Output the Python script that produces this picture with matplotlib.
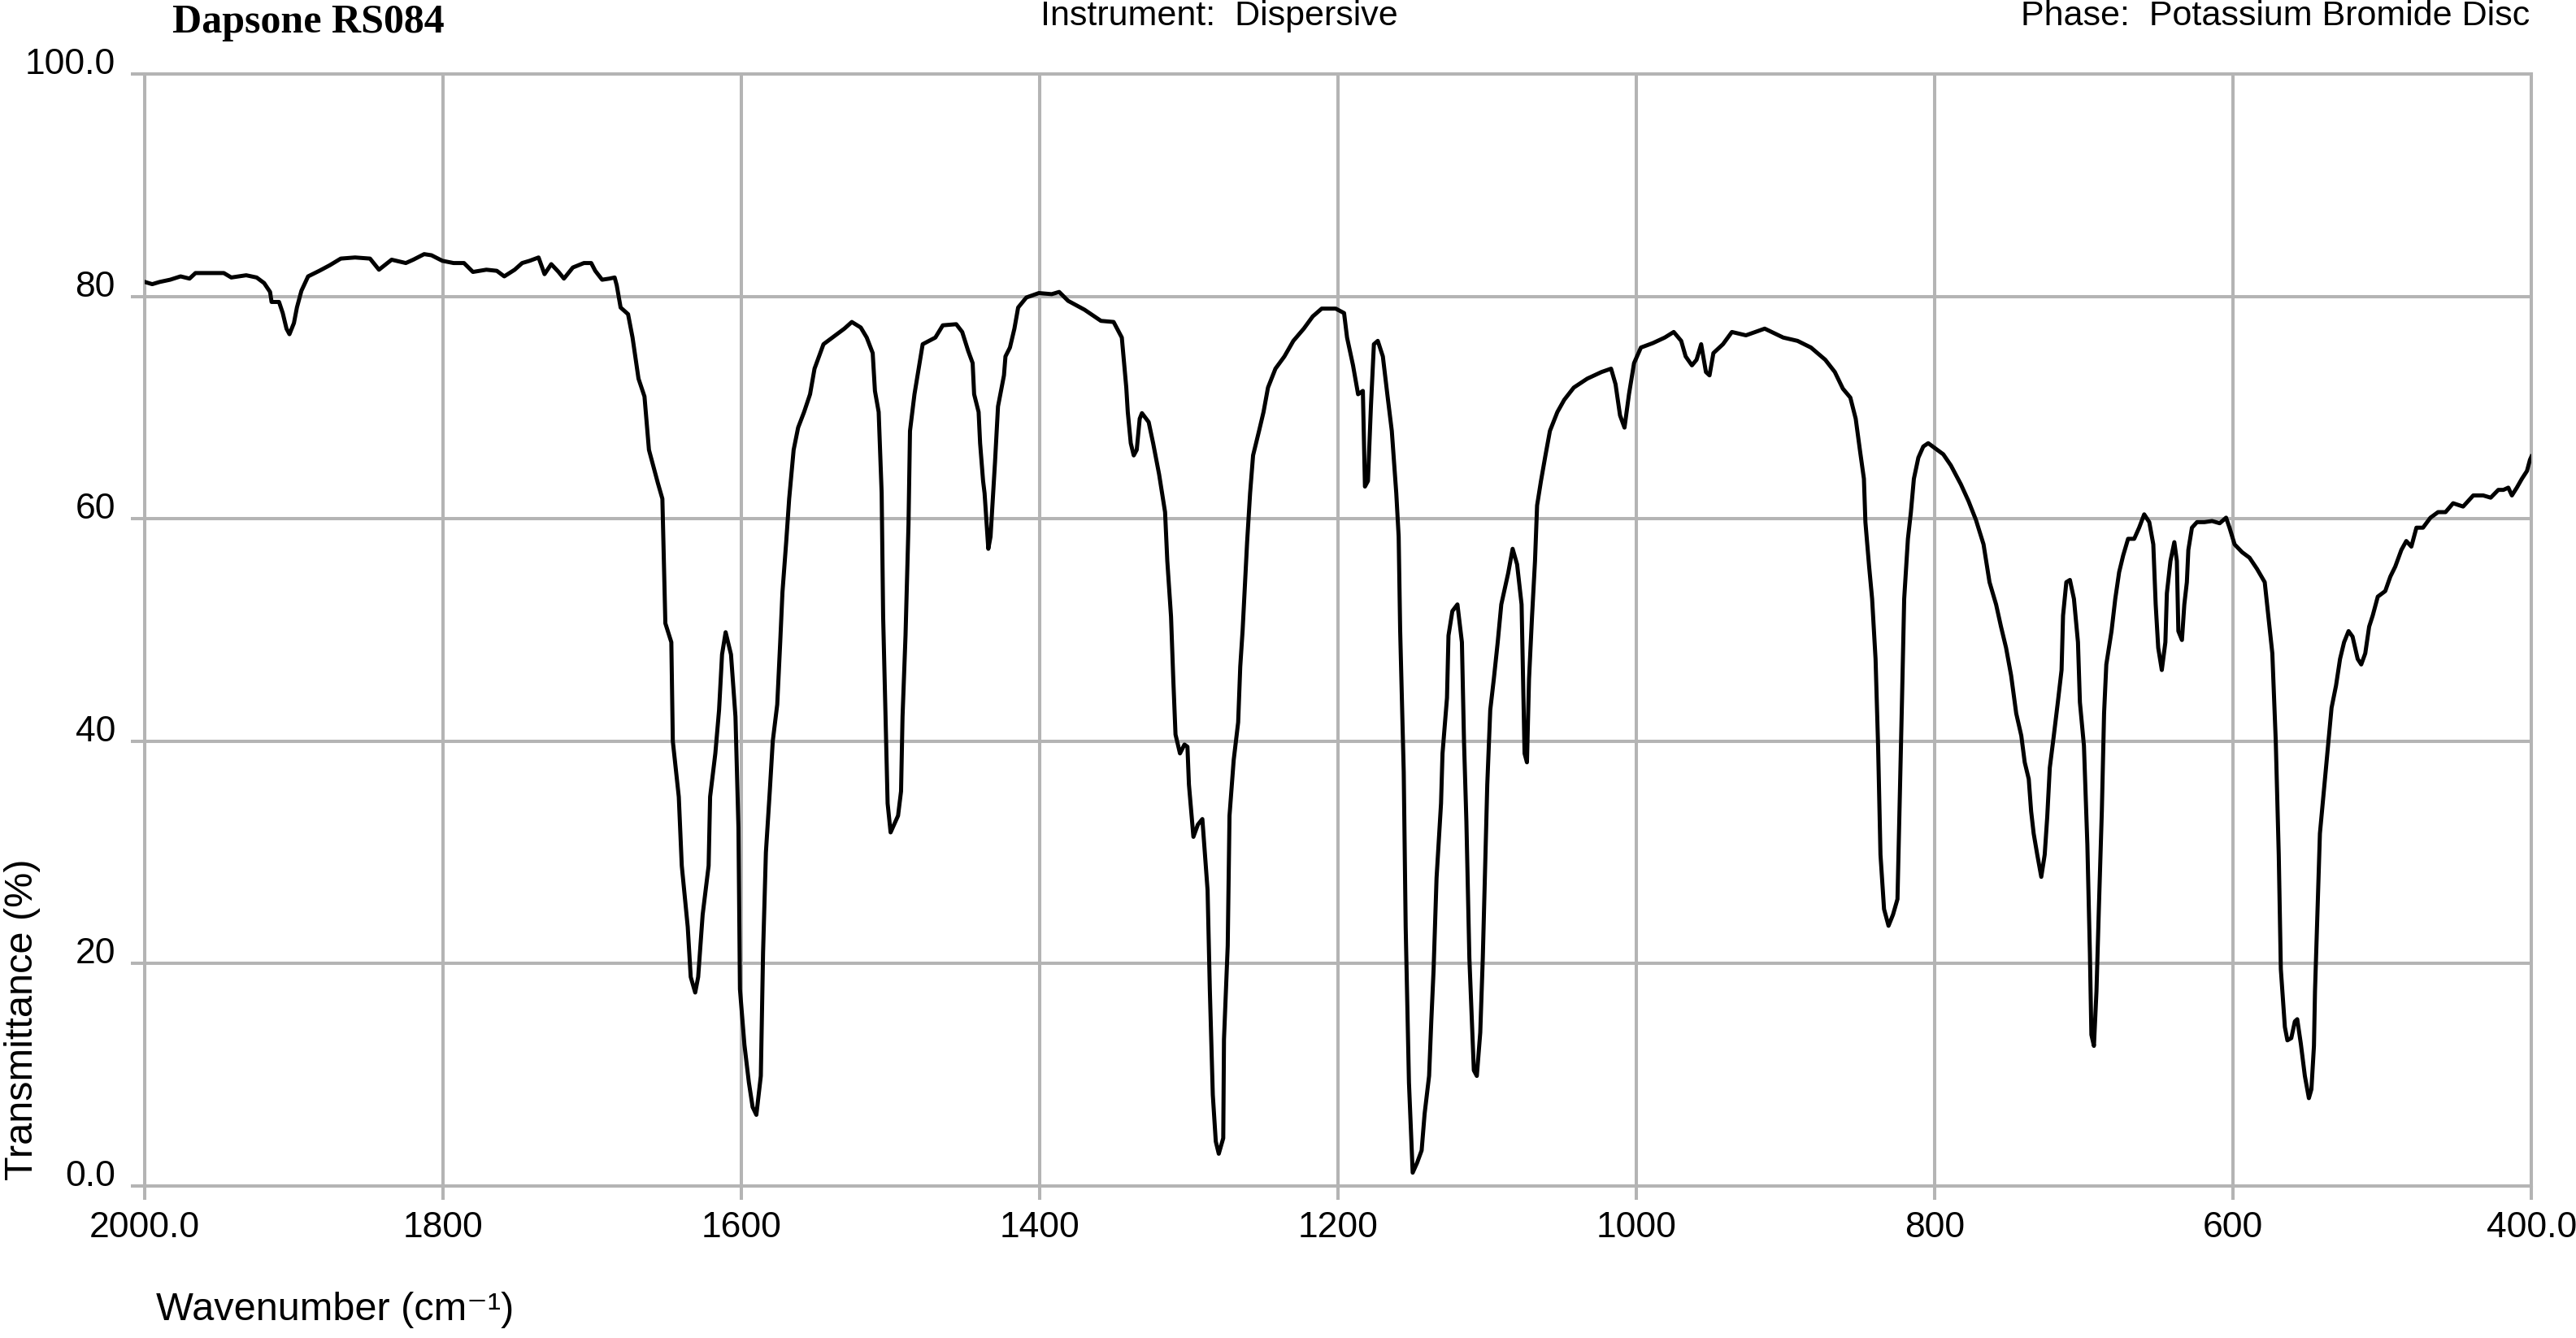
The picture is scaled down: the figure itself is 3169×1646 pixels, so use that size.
import matplotlib
matplotlib.use('Agg')
import matplotlib.pyplot as plt

# IR spectrum of dapsone
wavenumber = [
    2000, 1995, 1990, 1983, 1976, 1970, 1966, 1956, 1947, 1942, 1932, 1925, 1920, 1916, 1915,
    1910, 1907.5, 1905, 1903, 1900, 1898, 1895, 1890.5, 1883, 1876, 1868.6, 1859, 1849, 1843,
    1834.5, 1825, 1820, 1812.7, 1807.8, 1800.5, 1793, 1786, 1780, 1771, 1764, 1759, 1752, 1747,
    1742, 1736, 1732, 1727.5, 1722.6, 1719, 1713, 1705.6, 1700.7, 1698, 1693.4, 1688.5, 1685,
    1683.6, 1681, 1676, 1673, 1669, 1665, 1662, 1656, 1653, 1651, 1647, 1646, 1642, 1640, 1636,
    1634, 1631, 1629, 1626, 1622, 1621, 1617.5, 1615, 1613, 1610.6, 1607, 1604, 1602, 1601, 1598,
    1595, 1592.5, 1590, 1587, 1585.5, 1583.6, 1581, 1579, 1576, 1574, 1572.5, 1570, 1568, 1565,
    1562, 1558, 1554, 1551, 1545, 1537, 1531, 1526, 1520, 1516, 1512, 1510.5, 1508, 1506, 1505,
    1503, 1502, 1500, 1495, 1493, 1492, 1490, 1488, 1487, 1484, 1478.5, 1470, 1465, 1456, 1452,
    1448, 1445, 1444, 1441, 1440, 1438, 1437, 1434.5, 1433, 1430, 1428, 1424, 1423, 1420, 1417,
    1414.5, 1409, 1400.6, 1392, 1387, 1381, 1370, 1359, 1350.5, 1345, 1342, 1341, 1339, 1337,
    1335, 1333, 1331.5, 1327, 1324, 1320, 1316, 1314.5, 1312, 1310.5, 1309, 1306, 1303, 1301,
    1300, 1297, 1294, 1291, 1287.5, 1286, 1284, 1282, 1280, 1277, 1276.5, 1274, 1272.8, 1270,
    1267, 1265.6, 1264, 1262.5, 1261, 1259, 1257, 1253, 1250, 1247, 1242, 1236, 1230, 1223, 1217,
    1211, 1201.6, 1196, 1194, 1190, 1186.6, 1183.4, 1182, 1180, 1178, 1176, 1173.4, 1170, 1167,
    1164, 1161, 1159.4, 1158.4, 1156, 1154.7, 1152.5, 1150, 1147, 1144, 1142, 1139, 1137.5, 1136,
    1134, 1131, 1130, 1127, 1126, 1123.4, 1120, 1117, 1115.6, 1114, 1112, 1109, 1107, 1104.7,
    1103, 1101.6, 1100, 1098, 1095.6, 1093, 1090.6, 1086, 1083, 1080, 1077, 1076, 1075, 1073.4,
    1072, 1070, 1068, 1066.6, 1064, 1061, 1058, 1053, 1048.4, 1042, 1033, 1023.4, 1017, 1014,
    1011, 1008, 1005, 1001.6, 997, 989, 981, 975, 970, 967, 962.8, 959.7, 956.6, 953.4, 951,
    948.4, 942, 936, 926.6, 914, 901.6, 892, 883, 873.4, 867, 861.6, 856.6, 853, 850, 847.5,
    846.5, 844, 842, 839.7, 838, 836.4, 834, 831, 828, 825, 824, 822, 820.5, 818, 816, 814, 811,
    807.7, 804.4, 799.3, 794.3, 789.2, 782.5, 777.4, 772.4, 767.3, 763.3, 758.9, 755.6, 752.2,
    748.8, 745.4, 742, 739.7, 737, 735.4, 733.7, 731.3, 728.6, 726.3, 724.6, 722.9, 720.2, 717.5,
    715, 714, 711.8, 709.4, 706.7, 704, 702.7, 700, 697.7, 696, 695, 693.3, 691.6, 690, 688,
    686.5, 685, 681.5, 679, 676.4, 673.7, 670.4, 666.3, 663, 659.6, 656.2, 653.5, 651.9, 650.2,
    647.8, 645.4, 644.4, 642, 639.4, 637.7, 636.7, 634.3, 632.7, 631, 630, 627.6, 624.2, 619.2,
    614.1, 609, 604.7, 602.4, 599, 594, 589, 584, 578.8, 576.4, 573.7, 571.4, 569.4, 568, 565.3,
    563.6, 561, 558.6, 557, 554.6, 551.9, 549.2, 547.5, 545.8, 545.1, 543.4, 541.8, 538.4, 536,
    534, 531, 528.3, 525.6, 522.6, 519.9, 516.5, 514.1, 511.4, 508.8, 506.4, 503, 498, 494.6,
    491.3, 487.2, 483.9, 480.5, 477.1, 472.7, 467.7, 462.6, 457.6, 452.5, 445.8, 439, 432.3,
    427.3, 422.2, 418.8, 415.5, 413.1, 409.8, 406.4, 403, 401, 400,
]
transmittance = [
    81.3, 81.1, 81.3, 81.5, 81.8, 81.6, 82.1, 82.1, 82.1, 81.7, 81.9, 81.7, 81.2, 80.4, 79.5,
    79.5, 78.5, 77.1, 76.6, 77.6, 79.0, 80.5, 81.8, 82.3, 82.8, 83.4, 83.5, 83.4, 82.4,
    83.3, 83.0, 83.3, 83.8, 83.7, 83.2, 83.0, 83.0, 82.2, 82.4, 82.3, 81.8, 82.4, 83.0,
    83.2, 83.5, 82.0, 82.9, 82.2, 81.6, 82.6, 83.0, 83.0, 82.3, 81.5, 81.6, 81.7,
    81.0, 79.0, 78.4, 76.3, 72.6, 71.0, 66.2, 63.2, 61.8, 50.6, 48.9, 40.0, 35.0, 28.8, 23.3,
    18.8, 17.4, 18.8, 24.4, 28.8, 35.0, 38.9, 42.8, 47.8, 49.8, 47.8, 42.2, 32.2, 17.7, 12.7,
    9.3, 7.1, 6.4, 9.9, 21.0, 30.0, 35.5, 40.0, 43.3, 48.9, 53.4, 57.9, 61.8, 66.2,
    68.2, 69.6, 71.2, 73.5, 75.7, 76.5, 77.1, 77.7, 77.2, 76.3, 74.9, 71.5, 69.6, 62.3, 51.2,
    40.0, 34.4, 31.8, 33.3, 35.5, 42.2, 49.5, 59.5, 67.9, 71.2, 75.7, 76.3, 77.4, 77.5, 76.8,
    75.1, 74.0, 71.2, 69.6, 66.8, 63.4, 62.3, 57.3, 58.4, 65.1, 70.1, 72.9, 74.6, 75.4, 77.1,
    79.0, 79.9, 80.3, 80.2, 80.4, 79.6, 78.8, 77.8, 77.7, 76.3, 71.8, 69.6, 66.8, 65.7,
    66.2, 69.0, 69.5, 68.7, 66.8, 64.0, 60.6, 56.2, 51.2, 45.6, 40.6, 38.9, 39.7, 39.5,
    36.1, 31.4, 32.5, 33.0, 26.6, 17.7, 8.2, 4.0, 2.9, 4.3, 13.2, 21.6, 33.3, 38.3,
    41.7, 46.7, 50.0, 53.9, 57.9, 62.3, 65.7, 67.9, 69.6, 71.8, 73.5, 74.6, 76.0, 77.1, 78.2,
    78.9, 78.9, 78.5, 76.3, 73.8, 71.2, 71.5, 62.9, 63.4, 70.1, 75.7, 76.0, 74.6, 71.2,
    67.9, 62.3, 58.4, 50.0, 37.2, 23.3, 9.3, 1.2, 2.1, 3.2, 6.5, 9.9, 14.9, 19.4,
    27.7, 34.4, 38.9, 43.9, 49.5, 51.7, 52.3, 48.9, 40.0, 32.8, 20.5, 10.4, 9.9, 13.8,
    20.5, 27.7, 36.1, 42.8, 45.6, 48.9, 52.3, 55.1, 57.3, 55.9, 52.3, 45.6, 38.9, 38.1,
    45.6, 51.2, 56.2, 61.2, 63.4, 65.7, 67.9, 69.6, 70.7, 71.8, 72.6, 73.2, 73.5, 72.1,
    69.3, 68.2, 71.2, 74.0, 75.4, 75.8, 76.3, 76.8, 76.0, 74.6, 73.8, 74.3, 75.7, 73.2, 72.9,
    74.9, 75.7, 76.8, 76.5, 77.1, 76.3, 76.0, 75.4, 74.3, 73.2, 71.7, 70.9, 69.0, 66.0, 63.6,
    59.7, 55.7, 52.8, 47.4, 39.6, 29.8, 24.9, 23.4, 24.4, 25.8, 31.7, 43.5, 52.8, 58.2, 60.6, 63.6, 65.5,
    66.5, 66.8, 66.3, 65.8, 64.8, 63.1, 61.6, 59.9, 57.7, 54.3, 52.3, 50.3, 48.4,
    45.9, 42.5, 40.5, 38.1, 36.6, 33.7, 31.7, 29.8, 27.8, 29.8, 33.2, 37.6, 40.5, 43.5,
    46.4, 51.3, 54.3, 54.5, 52.8, 48.9, 43.5, 39.6, 30.7, 20.9, 13.6, 12.6, 17.5, 24.9, 33.7,
    42.5, 46.9, 49.9, 52.8, 55.2, 56.7, 58.2, 58.2, 59.2, 60.4, 59.7, 57.7, 52.3, 48.4,
    46.4, 48.9, 53.3, 56.2, 57.9, 56.2, 49.9, 49.1, 52.3, 54.3, 57.2, 59.2, 59.7, 59.7,
    59.8, 59.6, 60.1, 59.2, 57.7, 57.0, 56.5, 55.5, 54.3, 51.3, 47.9, 40.0, 29.8, 19.5, 14.3,
    13.1, 13.3, 14.8, 15.0, 12.8, 9.9, 7.9, 8.7, 12.6, 17.5, 24.9, 31.7, 36.6, 40.0,
    43.0, 45.0, 47.4, 48.9, 49.9, 49.4, 47.4, 46.9, 47.9, 50.3, 51.3, 53.0, 53.5, 54.8,
    55.7, 57.2, 58.0, 57.5, 59.2, 59.2, 60.1, 60.6, 60.6, 61.4, 61.1, 62.1, 62.1,
    61.9, 62.6, 62.6, 62.8, 62.1, 62.8, 63.6, 64.3, 65.3, 65.6,
]

x_ticks = [2000, 1800, 1600, 1400, 1200, 1000, 800, 600, 400]
x_tick_labels = ['2000.0', '1800', '1600', '1400', '1200', '1000', '800', '600', '400.0']
y_ticks = [0, 20, 40, 60, 80, 100]
y_tick_labels = ['0.0', '20', '40', '60', '80', '100.0']

plt.rcParams['font.family'] = ['Liberation Sans', 'DejaVu Sans']

grid_col = '#b4b4b4'

fig = plt.figure(figsize=(15.845, 8.23), dpi=200)
ax = fig.add_axes([0.0562, 0.1136, 0.9265, 0.8311])
ax.plot(wavenumber, transmittance, color='black', lw=1.8, zorder=3)
ax.set_xlim(2000, 400)
ax.set_ylim(0, 100)

ax.set_xticks(x_ticks)
ax.set_xticklabels(x_tick_labels)
ax.set_yticks(y_ticks)
ax.set_yticklabels(y_tick_labels)
ax.grid(True, color=grid_col, lw=1.45)
ax.set_axisbelow(True)
for s in ax.spines.values():
    s.set_color(grid_col)
    s.set_linewidth(1.45)
ax.tick_params(axis='both', direction='out', length=6, width=1.45, color=grid_col, labelsize=16)
ax.tick_params(axis='x', pad=5)
ax.tick_params(axis='y', pad=7)
plt.setp(ax.get_yticklabels(), va='baseline')

# header line
fig.text(0.067, 0.983, 'Dapsone RS084', family=['Liberation Serif'], weight='bold',
         fontsize=18, va='center', ha='left')
fig.text(0.404, 0.988, 'Instrument:  Dispersive', fontsize=15.5, va='center', ha='left')
fig.text(0.982, 0.988, 'Phase:  Potassium Bromide Disc', fontsize=15.5, va='center', ha='right')

# axis titles
fig.text(0.0088, 0.118, 'Transmittance (%)', rotation=90, fontsize=17.5, ha='center', va='bottom')
fig.text(0.0606, 0.021, 'Wavenumber (cm\u207b\u00b9)', fontsize=17.5, ha='left', va='center')

fig.savefig('out.png', dpi=200)
